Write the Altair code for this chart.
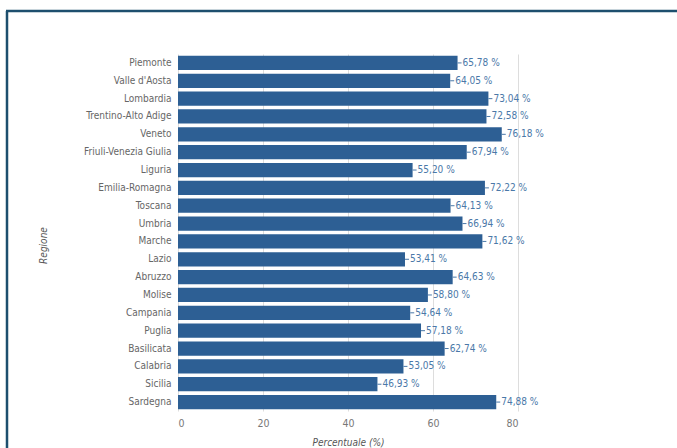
import altair as alt
import pandas as pd

regioni = ["Piemonte", "Valle d'Aosta", "Lombardia", "Trentino-Alto Adige", "Veneto",
           "Friuli-Venezia Giulia", "Liguria", "Emilia-Romagna", "Toscana", "Umbria",
           "Marche", "Lazio", "Abruzzo", "Molise", "Campania", "Puglia", "Basilicata",
           "Calabria", "Sicilia", "Sardegna"]
valori = [65.78, 64.05, 73.04, 72.58, 76.18, 67.94, 55.20, 72.22, 64.13, 66.94,
          71.62, 53.41, 64.63, 58.80, 54.64, 57.18, 62.74, 53.05, 46.93, 74.88]
x_ticks = [0, 20, 40, 60, 80]

df = pd.DataFrame({"Regione": regioni, "Valore": valori})
df["Etichetta"] = df["Valore"].map(lambda v: f"{v:.2f}".replace(".", ",") + " %")

FONT = "DejaVu Sans Condensed, Liberation Sans Narrow, Liberation Sans, Arial, sans-serif"
BAR = "#2d5f94"
LAB = "#4a78a8"

y_enc = alt.Y("Regione:N", sort=regioni, title="Regione",
              axis=alt.Axis(labelColor="#666666", labelFontSize=10, labelFont=FONT,
                            ticks=False, domain=False, labelPadding=7,
                            titleFont=FONT, titleFontStyle="italic", titleFontWeight="normal",
                            titleFontSize=10, titleColor="#555555",
                            titleX=-130, titleY=191),
              scale=alt.Scale(paddingInner=0.2, paddingOuter=0.1))
x_enc = alt.X("Valore:Q", title="Percentuale (%)",
              scale=alt.Scale(domain=[0, 80]),
              axis=alt.Axis(values=x_ticks, labelColor="#777777", labelFontSize=10.5,
                            labelFont=FONT, ticks=False, domain=False, gridColor="#dddddd",
                            titleFont=FONT, titleFontStyle="italic", titleFontWeight="normal",
                            titleFontSize=10, titleColor="#555555", titlePadding=9,
                            labelPadding=7))

base = alt.Chart(df)
bars = base.mark_bar(color=BAR).encode(x=x_enc, y=y_enc)
ticks = base.mark_rule(color=LAB, strokeWidth=1, x2Offset=4).encode(
    x="Valore:Q", x2="Valore:Q", y=alt.Y("Regione:N", sort=regioni))
labels = base.mark_text(align="left", baseline="middle", dx=5, color=LAB,
                        fontSize=10, font=FONT).encode(
    x="Valore:Q", y=alt.Y("Regione:N", sort=regioni), text="Etichetta:N")

border_df = pd.DataFrame({"k": [0]})
border_left = alt.Chart(border_df).mark_rule(color="#1d4f6e", strokeWidth=2.5).encode(
    x=alt.value(-171), y=alt.value(-43), y2=alt.value(400))
border_top = alt.Chart(border_df).mark_rule(color="#1d4f6e", strokeWidth=2.5).encode(
    x=alt.value(-172), x2=alt.value(500), y=alt.value(-43))

chart = alt.layer(bars, ticks, labels, border_left, border_top).properties(
    width=340, height=357,
    autosize=alt.AutoSizeParams(type="none"),
    padding={"left": 178, "top": 54, "right": 159, "bottom": 37},
    background="white",
).configure_view(stroke=None)

chart.save("out.html", embed_options={"renderer": "svg", "actions": False})
